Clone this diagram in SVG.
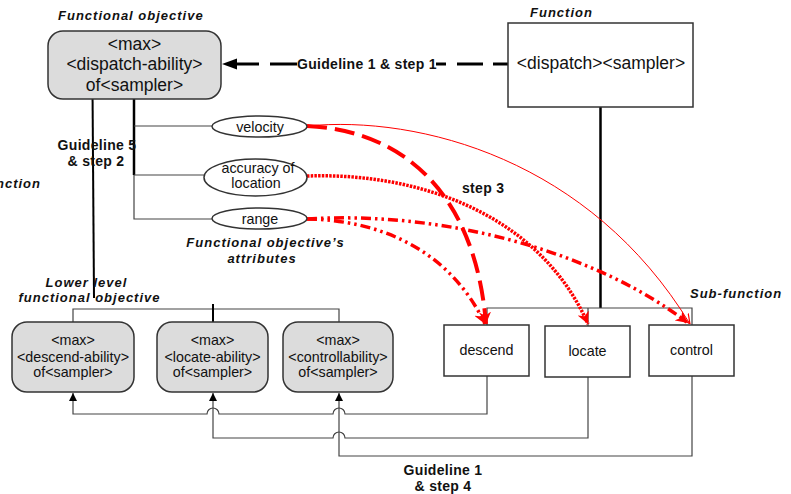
<svg xmlns="http://www.w3.org/2000/svg" width="791" height="494" viewBox="0 0 791 494">
<defs>
<style>
.big{font-family:"Liberation Sans",Arial,sans-serif;font-size:17.5px;fill:#111;text-anchor:middle}
.mid{font-family:"Liberation Sans",Arial,sans-serif;font-size:14.3px;fill:#111;text-anchor:middle}
.ttl{font-family:"Liberation Sans",Arial,sans-serif;font-size:13px;font-weight:bold;font-style:italic;letter-spacing:1px;fill:#111}
.lbl{font-family:"Liberation Sans",Arial,sans-serif;font-size:14px;font-weight:bold;letter-spacing:0.3px;fill:#111}
.gray{fill:#dcdcdc;stroke:#333;stroke-width:1.5}
.box{fill:#fff;stroke:#333;stroke-width:1.5}
.thin{fill:none;stroke:#444;stroke-width:1.2}
.thick{fill:none;stroke:#000;stroke-width:2.5}
.red{fill:none;stroke:#f00}
</style>
<marker id="ab" viewBox="0 0 10 10" refX="10" refY="5" markerWidth="8" markerHeight="8" markerUnits="userSpaceOnUse" orient="auto"><path d="M0,0 L10,5 L0,10 z" fill="#000"/></marker>
<marker id="ar" viewBox="0 0 10 10" refX="10" refY="5" markerWidth="12" markerHeight="12" markerUnits="userSpaceOnUse" orient="auto"><path d="M0,0 L10,5 L0,10 L3,5 z" fill="#f00"/></marker>
<marker id="art" viewBox="0 0 10 10" refX="10" refY="5" markerWidth="10" markerHeight="10" markerUnits="userSpaceOnUse" orient="auto"><path d="M0,1 L10,5 L0,9" fill="none" stroke="#f00" stroke-width="1.2"/></marker>
</defs>

<g id="connectors">
<!-- top dashed arrow -->
<g stroke="#000" stroke-width="3">
<line x1="493" y1="64" x2="508" y2="64"/>
<line x1="457" y1="64" x2="483" y2="64"/>
<line x1="436" y1="64" x2="446" y2="64"/>
<line x1="270" y1="64" x2="297" y2="64"/>
<line x1="236" y1="64" x2="259" y2="64"/>
</g>
<path d="M222,64 L237,58.5 L237,69.5 z" fill="#000"/>
<!-- left long vertical -->
<line x1="92.5" y1="88" x2="94" y2="298" stroke="#000" stroke-width="2"/>
<!-- attribute tree -->
<line x1="134" y1="99" x2="134" y2="175" class="thick" stroke-width="2"/>
<path d="M134,175 V219 H212 M134,126 H212 M134,175 H204" class="thin"/>
<!-- function to subfunctions -->
<line x1="600.5" y1="107" x2="600.5" y2="308" class="thick"/>
<path d="M487,325 V308 H692 V325 M588,308 V326" class="thin"/>
<!-- lower bus -->
<path d="M73,322 V309 H339 V322" class="thin"/>
<line x1="213" y1="304" x2="213" y2="322" stroke="#000" stroke-width="2"/>
<!-- bottom feedback -->
<path d="M487,376 V414 H345 A6,6 0 0 0 333,414 H219 A6,6 0 0 0 207,414 H73 V393" class="thin" marker-end="url(#ab)"/>
<path d="M588,377 V438 H345 A6,6 0 0 0 333,438 H213 V393" class="thin" marker-end="url(#ab)"/>
<path d="M692,376 V456 H339 V393" class="thin" marker-end="url(#ab)"/>
<!-- red curves -->
<path d="M307,126 C420,115 590,160 690,324" class="red" stroke-width="1" marker-end="url(#art)"/>
<path d="M307,126 C400,130 475,190 486,324" class="red" stroke-width="4" stroke-dasharray="20 8" marker-end="url(#ar)"/>
<path d="M307,176 C420,172 540,215 588,324" class="red" stroke-width="3.5" stroke-dasharray="2.5 1.2" marker-end="url(#ar)"/>
<path d="M307,219 C380,220 450,250 485,324" class="red" stroke-width="3.5" stroke-dasharray="10 4 2.5 4 2.5 4" marker-end="url(#ar)"/>
<path d="M307,219 C450,210 600,255 688,323" class="red" stroke-width="3.5" stroke-dasharray="10 4 2.5 4 2.5 4" marker-end="url(#ar)"/>
</g>

<g id="fo-dispatch">
<rect x="48" y="31" width="173" height="68" rx="15" class="gray"/>
<text x="134.5" y="49.5" class="big">&lt;max&gt;</text>
<text x="134.5" y="70" class="big">&lt;dispatch-ability&gt;</text>
<text x="134.5" y="91" class="big">of&lt;sampler&gt;</text>
</g>
<g id="fn-dispatch">
<rect x="508" y="23" width="185" height="84" class="box"/>
<text x="601" y="69" class="big">&lt;dispatch&gt;&lt;sampler&gt;</text>
</g>
<g id="attr-velocity">
<ellipse cx="259.5" cy="126.5" rx="47.5" ry="10.5" class="box" stroke-width="1.2"/>
<text x="260" y="131.5" class="mid" font-size="14.5">velocity</text>
</g>
<g id="attr-accuracy">
<ellipse cx="255.5" cy="177.5" rx="51.5" ry="18.5" class="box" stroke-width="1.2"/>
<text x="258" y="172.5" class="mid" font-size="14.5">accuracy of</text>
<text x="256" y="187.5" class="mid" font-size="14.5">location</text>
</g>
<g id="attr-range">
<ellipse cx="259.5" cy="218.5" rx="47.5" ry="10.5" class="box" stroke-width="1.2"/>
<text x="260" y="223.5" class="mid" font-size="14.5">range</text>
</g>
<g id="fo-descend">
<rect x="12" y="322" width="122" height="70" rx="15" class="gray"/>
<text x="73" y="345" class="mid">&lt;max&gt;</text>
<text x="73" y="361.5" class="mid">&lt;descend-ability&gt;</text>
<text x="73" y="377" class="mid">of&lt;sampler&gt;</text>
</g>
<g id="fo-locate">
<rect x="157" y="322" width="111" height="70" rx="15" class="gray"/>
<text x="212.5" y="345" class="mid">&lt;max&gt;</text>
<text x="212.5" y="361.5" class="mid">&lt;locate-ability&gt;</text>
<text x="212.5" y="377" class="mid">of&lt;sampler&gt;</text>
</g>
<g id="fo-control">
<rect x="283" y="322" width="110" height="70" rx="15" class="gray"/>
<text x="338" y="345" class="mid">&lt;max&gt;</text>
<text x="338" y="361.5" class="mid">&lt;controllability&gt;</text>
<text x="338" y="377" class="mid">of&lt;sampler&gt;</text>
</g>
<g id="sf-descend">
<rect x="444" y="325" width="85" height="51" class="box"/>
<text x="486.5" y="355" class="mid">descend</text>
</g>
<g id="sf-locate">
<rect x="545" y="326" width="85" height="51" class="box"/>
<text x="587.5" y="356" class="mid">locate</text>
</g>
<g id="sf-control">
<rect x="649" y="325" width="85" height="51" class="box"/>
<text x="691.5" y="355" class="mid">control</text>
</g>

<g id="labels">
<text x="58" y="20" class="ttl">Functional objective</text>
<text x="530" y="17" class="ttl">Function</text>
<text x="41" y="188" class="ttl" text-anchor="end">nction</text>
<text x="265.5" y="247" class="ttl" text-anchor="middle">Functional objective’s</text>
<text x="262" y="263" class="ttl" text-anchor="middle">attributes</text>
<text x="86.5" y="287" class="ttl" text-anchor="middle">Lower level</text>
<text x="89.5" y="302" class="ttl" text-anchor="middle">functional objective</text>
<text x="690" y="298" class="ttl">Sub-function</text>
<text x="297" y="68.5" class="lbl">Guideline 1 &amp; step 1</text>
<text x="97" y="149.5" class="lbl" text-anchor="middle">Guideline 5</text>
<text x="96" y="165.5" class="lbl" text-anchor="middle">&amp; step 2</text>
<text x="462" y="193" class="lbl">step 3</text>
<text x="443" y="475" class="lbl" text-anchor="middle">Guideline 1</text>
<text x="443" y="490.5" class="lbl" text-anchor="middle">&amp; step 4</text>
</g>
</svg>
